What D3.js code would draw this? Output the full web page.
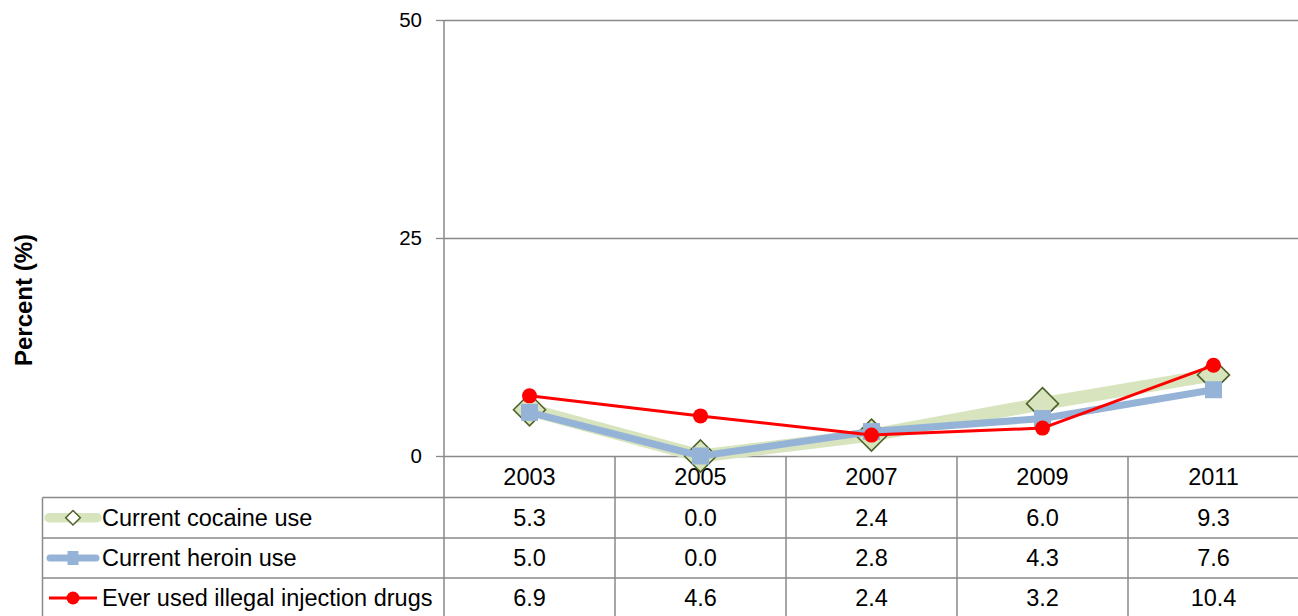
<!DOCTYPE html>
<html><head><meta charset="utf-8">
<script src="https://cdn.jsdelivr.net/npm/d3@7/dist/d3.min.js"></script>
<style>body{margin:0;background:#fff}svg{display:block}text{font-family:"Liberation Sans",Arial,sans-serif;fill:#000}</style>
</head><body><svg id="c" width="1298" height="616"></svg>
<script>
const years = ["2003","2005","2007","2009","2011"];
const seriesNames = ["Current cocaine use","Current heroin use","Ever used illegal injection drugs"];
const cocaine = [5.3, 0.0, 2.4, 6.0, 9.3];
const heroin = [5.0, 0.0, 2.8, 4.3, 7.6];
const injection = [6.9, 4.6, 2.4, 3.2, 10.4];
const yTicks = [0, 25, 50];
const yLabel = "Percent (%)";

const svg = d3.select("#c");
const plotL = 444, plotR = 1299, plotT = 20, plotB = 456;
const x = d3.scaleBand().domain(years).range([plotL, plotR]);
const y = d3.scaleLinear().domain([0, 50]).range([plotB, plotT]);
const gridColor = "#898989";

// gridlines
svg.append("g").attr("transform", `translate(${plotL},0)`)
  .call(d3.axisLeft(y).tickValues(yTicks).tickSize(-(plotR - plotL)).tickFormat(""))
  .call(g => g.select(".domain").remove())
  .call(g => g.selectAll("line").attr("stroke", gridColor).attr("stroke-width", 1.3));
// y axis
svg.append("g").attr("transform", `translate(${plotL},0)`)
  .call(d3.axisLeft(y).tickValues(yTicks).tickSize(8).tickPadding(14))
  .call(g => g.select(".domain").attr("d", `M0,${plotT}V616`).attr("stroke", gridColor).attr("stroke-width", 1.5))
  .call(g => g.selectAll("line").attr("stroke", gridColor).attr("stroke-width", 1.3))
  .call(g => g.selectAll("text").style("font-size", "20.5px").style("font-family", "Liberation Sans, Arial, sans-serif").attr("fill", "#000"));

svg.append("text").attr("transform", "translate(32,300) rotate(-90)")
  .attr("text-anchor", "middle").style("font-size", "24px").style("font-weight", "bold").text(yLabel);

// table
const rowY = [456, 497.5, 538, 578, 618];
const tLeft = 42.5;
const tbl = svg.append("g").attr("stroke", gridColor).attr("stroke-width", 1.5);
rowY.slice(1, 4).forEach(r => tbl.append("line").attr("x1", tLeft).attr("x2", plotR).attr("y1", r).attr("y2", r));
tbl.append("line").attr("x1", tLeft).attr("x2", tLeft).attr("y1", rowY[1]).attr("y2", 616);
years.forEach((yr, i) => {
  if (i > 0) tbl.append("line").attr("x1", x(yr)).attr("x2", x(yr)).attr("y1", plotB).attr("y2", 616);
});

const fmt = d3.format(".1f");
const fs = "23.5px";
years.forEach(yr => {
  svg.append("text").attr("x", x(yr) + x.bandwidth() / 2).attr("y", (rowY[0] + rowY[1]) / 2 + 8.5)
    .attr("text-anchor", "middle").style("font-size", fs).text(yr);
});
const allSeries = [cocaine, heroin, injection];
allSeries.forEach((vals, si) => {
  vals.forEach((v, i) => {
    svg.append("text").attr("x", x(years[i]) + x.bandwidth() / 2).attr("y", (rowY[si + 1] + rowY[si + 2]) / 2 + 8)
      .attr("text-anchor", "middle").style("font-size", fs).text(fmt(v));
  });
  svg.append("text").attr("x", 102).attr("y", (rowY[si + 1] + rowY[si + 2]) / 2 + 8)
    .style("font-size", fs).text(seriesNames[si]);
});

// series lines
const cx = i => x(years[i]) + x.bandwidth() / 2;
const line = d3.line().x((d, i) => cx(i)).y(d => y(d));
const styles = [
  {c: "#d7e4bd", w: 13},
  {c: "#95b3d7", w: 7},
  {c: "#ff0000", w: 3}
];
function marker(g, si, px, py, small) {
  if (si === 0) {
    const s = small ? 7.3 : 16;
    g.append("path").attr("d", `M${px},${py - s}L${px + s},${py}L${px},${py + s}L${px - s},${py}Z`)
      .attr("fill", small ? "#fff" : "#d7e4bd").attr("stroke", "#4f6228").attr("stroke-width", small ? 1.5 : 1.6);
  } else if (si === 1) {
    const w = small ? 5.5 : 8.5, h = small ? 7 : 8.5;
    g.append("rect").attr("x", px - w).attr("y", py - h).attr("width", 2 * w).attr("height", 2 * h).attr("fill", "#95b3d7");
  } else {
    g.append("circle").attr("cx", px).attr("cy", py).attr("r", small ? 6.5 : 7.5).attr("fill", "#ff0000");
  }
}
const legendX = [[49, 97], [50, 96], [49, 97]];
allSeries.forEach((vals, si) => {
  const g = svg.append("g");
  g.append("path").attr("d", line(vals)).attr("fill", "none").attr("stroke", styles[si].c)
    .attr("stroke-width", styles[si].w).attr("stroke-linejoin", "round");
  vals.forEach((v, i) => marker(g, si, cx(i), y(v), false));
  // legend key
  const ly = (rowY[si + 1] + rowY[si + 2]) / 2;
  const lg = svg.append("g");
  lg.append("line").attr("x1", legendX[si][0]).attr("x2", legendX[si][1]).attr("y1", ly).attr("y2", ly)
    .attr("stroke", styles[si].c).attr("stroke-width", si === 0 ? 9.5 : styles[si].w).attr("stroke-linecap", si === 2 ? "butt" : "round");
  marker(lg, si, 73, ly, true);
});
</script></body></html>
